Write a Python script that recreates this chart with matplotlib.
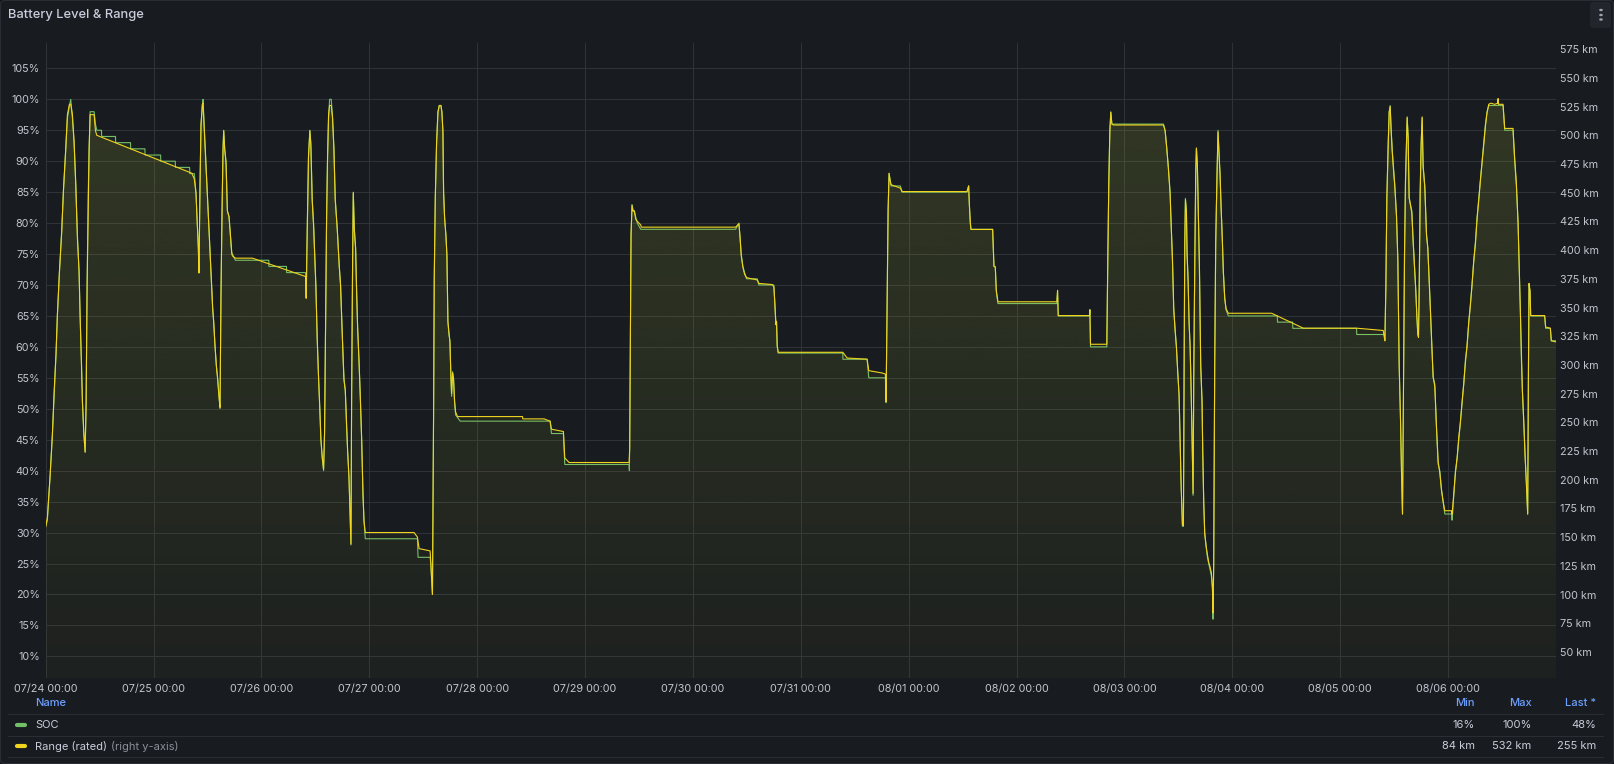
import matplotlib
matplotlib.use("Agg")
import matplotlib.pyplot as plt
import matplotlib.colors as mcolors
from matplotlib.patches import FancyBboxPatch
from matplotlib.transforms import IdentityTransform
import numpy as np

plt.rcParams['font.family'] = ['Inter', 'DejaVu Sans']

# ---------------- data (hours since 07/24 00:00, value) ----------------
soc_points = [
    (0.0, 31), (0.37, 32), (0.97, 39), (1.49, 46), (1.86, 52), (2.3, 59), (2.6, 65), (3.05, 72),
    (3.57, 79), (3.94, 85), (4.46, 92), (4.83, 97), (5.28, 99), (5.57, 100), (5.94, 97), (6.32, 93),
    (6.69, 86), (7.06, 78), (7.43, 72), (7.65, 65), (7.95, 58), (8.17, 51), (8.47, 46), (8.77, 43),
    (8.99, 51), (9.21, 70), (9.44, 84), (9.66, 92), (9.88, 98), (10.77, 98), (11.07, 96), (11.37, 95),
    (12.41, 95), (12.45, 94), (15.53, 94), (15.57, 93), (18.87, 93), (18.91, 92), (22.07, 92),
    (22.11, 91), (25.56, 91), (25.6, 90), (28.83, 90), (28.87, 89), (32.02, 89), (32.06, 88),
    (33.06, 88), (33.44, 85), (33.66, 81), (33.96, 76), (34.1, 72), (34.33, 86), (34.55, 96),
    (34.85, 99), (35.0, 100), (37.15, 66), (37.37, 64), (37.67, 60), (37.97, 57), (38.26, 55),
    (38.56, 52), (38.78, 50), (39.0, 69), (39.23, 82), (39.45, 92), (39.6, 95), (39.82, 92),
    (40.12, 90), (40.42, 82), (40.79, 81), (41.09, 78), (41.39, 75), (41.53, 75), (42.2, 74),
    (49.63, 74), (49.67, 73), (53.57, 73), (53.61, 72), (57.81, 72), (57.95, 68), (58.18, 79),
    (58.47, 91), (58.77, 95), (58.99, 93), (59.29, 84), (59.59, 80), (59.89, 74), (60.11, 70),
    (60.41, 61), (60.7, 55), (61.0, 50), (61.22, 45), (61.52, 42), (61.82, 40), (62.04, 46),
    (62.26, 64), (62.49, 81), (62.71, 91), (62.93, 97), (63.16, 100), (63.53, 100), (63.82, 97),
    (64.12, 92), (64.42, 84), (64.86, 79), (65.31, 73), (65.61, 70), (65.98, 62), (66.35, 55),
    (66.65, 53), (66.94, 47), (67.17, 43), (67.46, 39), (67.69, 34), (67.91, 28), (68.06, 52),
    (68.28, 74), (68.43, 85), (68.65, 79), (68.95, 76), (69.17, 69), (69.4, 63), (69.69, 58),
    (69.99, 52), (70.29, 45), (70.59, 36), (70.81, 32), (71.1, 29), (82.7, 29), (82.84, 26),
    (85.52, 26), (85.67, 25), (85.82, 23), (86.04, 20),
    (86.3, 50), (86.44, 71), (86.67, 84), (86.96, 93), (87.26, 98), (87.56, 99), (87.93, 99),
    (88.15, 98), (88.37, 95), (88.52, 85), (88.74, 81), (89.04, 78), (89.26, 75), (89.48, 64),
    (89.7, 62), (89.93, 61), (90.15, 55), (90.3, 52), (90.52, 56), (90.74, 55), (90.96, 51),
    (91.19, 49), (92.22, 48), (112.22, 48), (112.37, 47), (112.52, 46), (115.18, 46), (115.48, 41),
    (129.78, 41), (129.85, 40), (129.92, 44), (130.07, 61), (130.22, 78), (130.44, 83), (130.67, 82),
    (130.96, 82), (131.26, 81), (131.63, 80), (132.37, 79), (153.48, 79), (154.22, 80), (154.44, 78),
    (154.74, 75), (155.11, 73), (155.48, 72), (155.93, 71), (158.3, 71), (158.67, 70), (161.63, 70),
    (162.0, 70), (162.22, 67), (162.44, 64), (162.59, 64), (162.74, 60), (162.96, 59), (177.33, 59),
    (177.37, 58), (182.74, 58), (183.11, 55), (186.81, 55), (186.96, 51), (187.19, 67), (187.41, 82),
    (187.63, 88), (187.85, 87), (188.07, 86), (190.15, 86), (190.52, 85), (204.96, 85), (205.33, 86),
    (205.48, 83), (205.7, 80), (205.85, 79), (210.67, 79), (210.96, 73), (211.26, 73), (211.48, 69),
    (211.85, 67), (224.96, 67), (225.11, 69), (225.26, 65), (232.22, 65), (232.3, 66), (232.44, 60),
    (236.07, 60), (236.3, 75), (236.52, 87), (236.74, 95), (236.96, 98), (237.19, 96), (248.67, 96),
    (249.04, 95), (249.41, 92), (249.78, 89), (250.15, 85), (250.37, 80), (250.67, 74), (250.96, 66),
    (251.26, 63), (251.56, 60), (251.85, 56), (252.15, 52), (252.37, 45), (252.59, 38), (252.89, 31),
    (253.11, 31), (253.26, 56), (253.41, 77), (253.56, 84), (253.78, 82), (253.93, 75), (254.15, 71),
    (254.37, 64), (254.59, 60), (254.81, 54), (255.04, 45), (255.26, 36), (255.41, 55), (255.63, 73),
    (255.85, 88), (256.0, 92), (256.22, 89), (256.44, 81), (256.67, 73), (256.96, 57), (257.26, 51),
    (257.41, 43), (257.63, 35), (257.85, 30), (258.15, 28), (258.44, 26), (258.74, 25), (259.04, 24),
    (259.33, 23), (259.56, 21), (259.7, 16), (259.85, 25), (260.07, 57), (260.3, 77), (260.59, 88),
    (260.81, 95), (261.04, 91), (261.26, 88), (261.48, 83), (261.78, 77), (262.0, 72), (262.3, 68),
    (262.59, 66), (263.11, 65), (274.0, 65), (274.04, 64), (277.41, 64), (277.45, 63), (291.63, 63),
    (291.67, 62), (297.8, 62), (297.93, 61), (298.15, 70), (298.37, 84), (298.67, 93), (298.89, 98),
    (299.11, 99), (299.33, 95), (299.56, 92), (299.85, 89), (300.15, 86), (300.52, 81), (300.81, 74),
    (301.11, 57), (301.41, 48), (301.63, 40), (301.85, 33), (302.07, 54), (302.3, 75), (302.52, 87),
    (302.74, 93), (302.89, 97), (303.11, 94), (303.33, 84), (303.63, 83), (303.93, 82), (304.22, 77),
    (304.52, 73), (304.81, 69), (305.04, 65), (305.26, 62), (305.41, 62), (305.56, 69), (305.78, 85),
    (306.0, 93), (306.22, 97), (306.44, 89), (306.81, 86), (307.19, 78), (307.48, 76), (307.78, 71),
    (308.07, 66), (308.37, 60), (308.67, 55), (309.04, 54), (309.41, 47), (309.78, 41), (310.15, 40),
    (310.52, 37), (310.89, 35), (311.26, 33), (312.74, 33), (312.89, 32), (313.26, 36), (313.63, 40),
    (314.0, 42), (314.37, 45), (314.74, 48), (315.11, 51), (315.48, 54), (315.85, 58), (316.22, 60),
    (316.59, 64), (316.96, 67), (317.33, 70), (317.7, 74), (318.07, 77), (318.44, 81), (318.81, 84),
    (319.19, 87), (319.56, 90), (319.93, 93), (320.3, 96), (320.67, 98), (321.04, 99), (321.48, 99),
    (322.37, 99), (324.22, 99), (324.59, 95), (326.44, 95), (326.81, 90), (327.19, 86), (327.56, 80),
    (327.78, 74), (328.07, 66), (328.3, 58), (328.52, 53), (328.81, 48), (329.11, 43), (329.41, 38),
    (329.7, 33), (329.85, 54), (330.0, 70), (330.22, 69), (330.37, 65), (333.48, 65), (333.7, 63),
    (334.74, 63), (334.96, 61), (336.0, 61),
]

range_points = [
    (0.0, 159), (0.37, 167), (0.97, 203), (1.49, 239), (1.86, 275), (2.3, 310), (2.6, 344),
    (3.05, 381), (3.57, 416), (3.94, 452), (4.46, 488), (4.83, 518), (5.28, 527), (5.57, 527),
    (5.94, 518), (6.32, 494), (6.69, 458), (7.06, 410), (7.43, 381), (7.65, 344), (7.95, 302),
    (8.17, 269), (8.47, 242), (8.77, 224), (8.99, 266), (9.21, 368), (9.66, 488), (9.88, 518),
    (10.77, 518), (11.07, 504), (11.37, 500), (32.5, 467), (33.06, 462), (33.44, 449), (33.66, 428),
    (33.96, 401), (34.1, 380), (34.33, 458), (34.55, 509), (34.85, 527), (35.0, 528), (37.15, 350),
    (37.37, 338), (37.67, 317), (37.97, 299), (38.26, 287), (38.56, 272), (38.78, 263), (39.0, 362),
    (39.23, 434), (39.45, 488), (39.6, 504), (39.82, 488), (40.12, 476), (40.42, 434), (40.79, 429),
    (41.09, 413), (41.39, 398), (41.53, 395), (42.2, 393), (46.0, 393), (57.81, 377), (57.95, 358),
    (58.18, 416), (58.47, 482), (58.77, 504), (58.99, 491), (59.29, 443), (59.59, 422), (59.89, 392),
    (60.11, 368), (60.41, 323), (60.7, 290), (61.0, 260), (61.22, 236), (61.52, 220), (61.82, 209),
    (62.04, 242), (62.26, 338), (62.49, 428), (62.71, 482), (62.93, 518), (63.16, 526), (63.53, 526),
    (63.82, 515), (64.12, 488), (64.42, 443), (64.86, 419), (65.31, 386), (65.61, 368), (65.98, 326),
    (66.35, 287), (66.65, 278), (66.94, 248), (67.17, 226), (67.46, 203), (67.69, 173), (67.91, 144),
    (68.06, 272), (68.28, 392), (68.43, 450), (68.65, 419), (68.95, 401), (69.17, 365), (69.4, 332),
    (69.69, 305), (69.99, 272), (70.29, 236), (70.59, 188), (70.81, 164), (71.1, 154), (81.95, 154),
    (82.7, 150), (83.07, 140), (85.52, 138), (85.67, 128), (85.82, 116), (86.04, 100),
    (86.3, 263), (86.44, 374), (86.67, 445), (86.96, 493), (87.26, 520), (87.56, 526), (87.93, 526),
    (88.15, 520), (88.37, 503), (88.52, 451), (88.74, 428), (89.04, 413), (89.26, 395), (89.48, 338),
    (89.7, 329), (89.93, 320), (90.15, 290), (90.3, 275), (90.52, 293), (90.74, 287), (90.96, 269),
    (91.19, 259), (91.63, 255), (92.37, 255), (106.07, 255), (106.15, 253), (110.89, 253),
    (112.22, 251), (112.52, 244), (115.18, 242), (115.48, 219), (116.44, 215), (129.78, 215),
    (129.92, 227), (130.07, 320), (130.22, 413), (130.44, 439), (130.67, 434), (130.96, 434),
    (131.26, 427), (131.63, 425), (132.37, 422), (132.5, 420), (153.48, 420), (154.22, 423),
    (154.44, 413), (154.74, 395), (155.11, 385), (155.48, 379), (155.93, 376), (158.3, 374),
    (158.67, 371), (161.63, 370), (162.0, 368), (162.22, 353), (162.44, 335), (162.59, 338),
    (162.74, 317), (162.96, 311), (177.33, 311), (178.3, 306), (182.74, 305), (183.11, 295),
    (186.07, 293), (186.81, 292), (186.96, 268), (187.19, 354), (187.41, 435), (187.63, 467),
    (187.85, 461), (188.07, 457), (190.15, 454), (190.52, 451), (204.96, 451), (205.33, 456),
    (205.48, 441), (205.7, 424), (205.85, 418), (210.67, 418), (210.96, 386), (211.26, 385),
    (211.48, 365), (211.85, 355), (224.96, 355), (225.11, 365), (225.26, 343), (232.22, 343),
    (232.3, 348), (232.44, 318), (236.07, 318), (236.3, 396), (236.52, 461), (236.74, 503),
    (236.96, 520), (237.19, 510), (237.5, 509), (248.67, 509), (249.04, 504), (249.41, 489),
    (249.78, 470), (250.15, 449), (250.37, 424), (250.67, 393), (250.96, 349), (251.26, 330),
    (251.56, 315), (251.85, 293), (252.15, 274), (252.37, 237), (252.59, 197), (252.89, 161),
    (253.11, 160), (253.26, 296), (253.41, 405), (253.56, 444), (253.78, 433), (253.93, 396),
    (254.15, 374), (254.37, 337), (254.59, 318), (254.81, 281), (255.04, 237), (255.26, 188),
    (255.41, 290), (255.63, 386), (255.85, 467), (256.0, 489), (256.22, 474), (256.44, 430),
    (256.67, 386), (256.96, 300), (257.26, 268), (257.41, 225), (257.63, 180), (257.85, 153),
    (258.15, 142), (258.44, 135), (258.74, 128), (259.04, 124), (259.33, 119), (259.56, 107),
    (259.7, 84), (259.85, 128), (260.07, 300), (260.3, 408), (260.59, 467), (260.81, 503),
    (261.04, 483), (261.26, 466), (261.48, 439), (261.78, 408), (262.0, 381), (262.3, 358),
    (262.59, 349), (263.11, 345), (272.74, 345), (279.78, 332), (291.63, 332), (297.56, 330),
    (297.93, 321), (298.15, 367), (298.37, 446), (298.67, 492), (298.89, 520), (299.11, 525),
    (299.33, 504), (299.56, 486), (299.85, 470), (300.15, 455), (300.52, 430), (300.81, 393),
    (301.11, 300), (301.41, 253), (301.63, 206), (301.85, 170), (302.07, 284), (302.3, 396),
    (302.52, 461), (302.74, 492), (302.89, 516), (303.11, 497), (303.33, 446), (303.63, 439),
    (303.93, 432), (304.22, 408), (304.52, 386), (304.81, 365), (305.04, 343), (305.26, 326),
    (305.41, 324), (305.56, 365), (305.78, 449), (306.0, 492), (306.22, 516), (306.44, 474),
    (306.81, 455), (307.19, 414), (307.48, 402), (307.78, 374), (308.07, 349), (308.37, 318),
    (308.67, 290), (309.04, 281), (309.41, 246), (309.78, 216), (310.15, 206), (310.52, 191),
    (310.89, 181), (311.26, 173), (312.74, 173), (312.89, 170), (313.26, 188), (313.63, 206),
    (314.0, 219), (314.37, 237), (314.74, 250), (315.11, 268), (315.48, 284), (315.85, 302),
    (316.22, 318), (316.59, 337), (316.96, 352), (317.33, 371), (317.7, 390), (318.07, 405),
    (318.44, 427), (318.81, 443), (319.19, 461), (319.56, 476), (319.93, 492), (320.3, 508),
    (320.67, 520), (321.04, 527), (321.48, 528), (322.37, 527), (323.05, 528), (323.11, 532),
    (323.18, 527), (324.22, 527), (324.59, 506), (326.44, 506), (326.81, 480), (327.19, 458),
    (327.56, 424), (327.78, 390), (328.07, 349), (328.3, 306), (328.52, 278), (328.81, 253),
    (329.11, 221), (329.41, 197), (329.7, 170), (329.85, 284), (330.0, 371), (330.22, 365),
    (330.37, 343), (333.48, 343), (333.7, 333), (334.74, 332), (334.96, 321), (336.0, 320),
]

x_tick_labels = ["07/24 00:00", "07/25 00:00", "07/26 00:00", "07/27 00:00", "07/28 00:00",
                 "07/29 00:00", "07/30 00:00", "07/31 00:00", "08/01 00:00", "08/02 00:00",
                 "08/03 00:00", "08/04 00:00", "08/05 00:00", "08/06 00:00"]
soc_ticks = list(range(10, 110, 5))
range_ticks = list(range(50, 600, 25))

series_names = ["SOC", "Range (rated)"]
legend_min = ["16%", "84 km"]
legend_max = ["100%", "532 km"]
legend_last = ["48%", "255 km"]

# ---------------- styling ----------------
W, H = 1614, 764
BG = '#181b1f'
GRID = '#2f3237'
TXT = '#ccccdc'
TICK = '#c3c5cf'
GREEN = '#73BF69'
YELLOW = '#F0D41E'
BLUE = '#6e9fff'
FS = 7.8

fig = plt.figure(figsize=(W / 100, H / 100), dpi=100)
fig.patch.set_facecolor('#111217')


def fx(x):
    return x / W


def fy(y):
    return 1 - y / H


panel = FancyBboxPatch((0.5, 0.5), W - 1, H - 1, boxstyle="round,pad=0,rounding_size=4",
                       transform=IdentityTransform(), fc=BG, ec='#2a2d33', lw=0.8, zorder=-10)
fig.patches.append(panel)

L, R, T, B = 45.7, 1556.0, 43.0, 678.0
ax = fig.add_axes([fx(L), fy(B), (R - L) / W, (B - T) / H])
ax.set_facecolor('none')
ax2 = ax.twinx()
ax2.set_facecolor('none')

x_min, x_max = 0, 336
soc_lo, soc_hi = 6.5, 109.1
km_lo, km_hi = 27.3, 580.4

sx = np.array([p[0] for p in soc_points])
sy = np.array([p[1] for p in soc_points])
rx = np.array([p[0] for p in range_points])
ry = np.array([p[1] for p in range_points])


def gradient_fill(axis, xs, ys, color, lo, hi, a_top, a_bot):
    poly = axis.fill_between(xs, ys, lo, color='none', lw=0)
    path = poly.get_paths()[0]
    rgb = mcolors.to_rgb(color)
    grad = np.zeros((256, 1, 4))
    grad[:, :, :3] = rgb
    grad[:, 0, 3] = np.linspace(a_top, a_bot, 256)
    im = axis.imshow(grad, aspect='auto', extent=[x_min, x_max, lo, hi],
                     origin='upper', zorder=1, interpolation='bilinear')
    im.set_clip_path(path, transform=axis.transData)


gradient_fill(ax, sx, sy, GREEN, soc_lo, soc_hi, 0.09, 0.02)
ax.plot(sx, sy, color=GREEN, lw=0.8, zorder=3)
gradient_fill(ax2, rx, ry, YELLOW, km_lo, km_hi, 0.10, 0.02)
ax2.plot(rx, ry, color=YELLOW, lw=0.8, zorder=3)

ax.set_xlim(x_min, x_max)
ax.set_ylim(soc_lo, soc_hi)
ax2.set_ylim(km_lo, km_hi)

ax.set_xticks([24 * i for i in range(len(x_tick_labels))])
ax.set_xticklabels(x_tick_labels)
ax.set_yticks(soc_ticks)
ax.set_yticklabels([f"{v}%" for v in soc_ticks])
ax2.set_yticks(range_ticks)
ax2.set_yticklabels([f"{v} km" for v in range_ticks])

ax.grid(True, color=GRID, lw=0.75)
ax.set_axisbelow(True)
for a in (ax, ax2):
    for s in a.spines.values():
        s.set_visible(False)
ax.tick_params(axis='x', length=0, pad=4.5, labelsize=FS, labelcolor=TICK)
ax.tick_params(axis='y', length=0, pad=4.2, labelsize=FS, labelcolor=TICK)
ax2.tick_params(axis='y', length=0, pad=3, labelsize=FS, labelcolor=TICK)

# title
fig.text(fx(8), fy(15), "Battery Level & Range", fontsize=9.3, color=TXT,
         fontweight='medium', va='center', ha='left')

# menu button
menu = FancyBboxPatch((1590, H - 28), 21, 26, boxstyle="round,pad=0,rounding_size=3",
                      transform=IdentityTransform(), fc='#22252b', ec='none', zorder=-5)
fig.patches.append(menu)
for dy in (10, 15, 19.5):
    fig.patches.append(plt.Circle((fx(1601), fy(dy)), 1.1 / W, transform=fig.transFigure,
                                  color='#a0a2aa'))

# legend table
LFS = 8.0
col_min, col_max, col_last = 1475, 1531.7, 1596
fig.text(fx(35), fy(703), "Name", color=BLUE, fontsize=LFS, fontweight='medium', va='center')
fig.text(fx(col_min), fy(703), "Min", color=BLUE, fontsize=LFS, fontweight='medium', va='center', ha='right')
fig.text(fx(col_max), fy(703), "Max", color=BLUE, fontsize=LFS, fontweight='medium', va='center', ha='right')
fig.text(fx(col_last), fy(703), "Last *", color=BLUE, fontsize=LFS, fontweight='medium', va='center', ha='right')

for yl in (714.3, 736, 757.3):
    fig.add_artist(plt.Line2D([fx(8), fx(1603)], [fy(yl), fy(yl)], color='#2a2d33', lw=0.8,
                              transform=fig.transFigure))

row_y = [725, 746]
colors = [GREEN, YELLOW]
name_texts = []
for i in range(2):
    y = row_y[i]
    fig.add_artist(plt.Line2D([fx(17), fx(25)], [fy(y), fy(y)], color=colors[i], lw=3.0,
                              solid_capstyle='round', transform=fig.transFigure))
    name_texts.append(fig.text(fx(35), fy(y), series_names[i], color=TXT, fontsize=LFS, va='center'))
    fig.text(fx(col_min), fy(y), legend_min[i], color=TXT, fontsize=LFS, va='center', ha='right')
    fig.text(fx(col_max), fy(y), legend_max[i], color=TXT, fontsize=LFS, va='center', ha='right')
    fig.text(fx(col_last), fy(y), legend_last[i], color=TXT, fontsize=LFS, va='center', ha='right')

renderer = fig.canvas.get_renderer()
bb = name_texts[1].get_window_extent(renderer)
fig.text(fx(bb.x1 + 4), fy(746), "(right y-axis)", color='#8d8e99', fontsize=LFS, va='center')

fig.savefig("out.png", dpi=100, facecolor=fig.get_facecolor())
